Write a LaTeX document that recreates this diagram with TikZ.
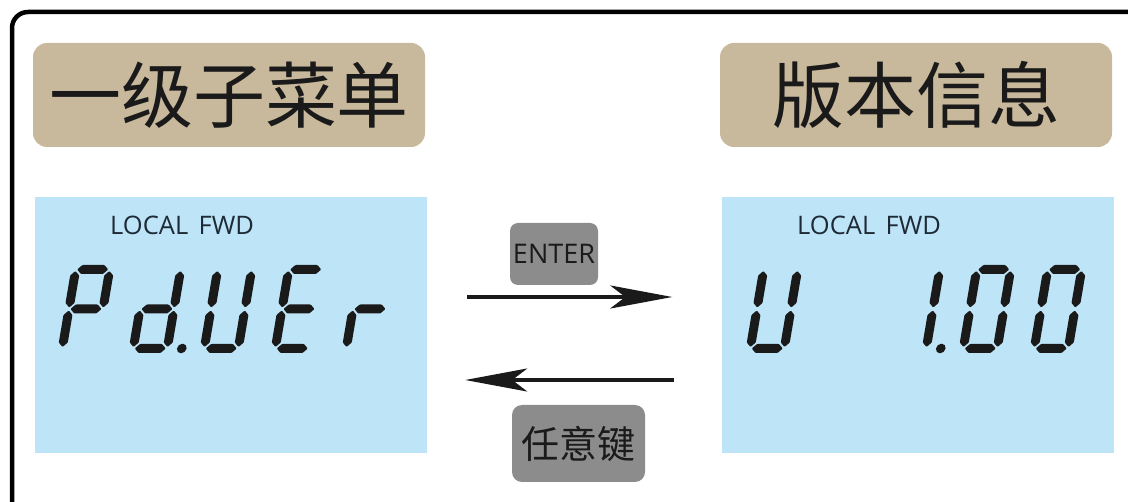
\documentclass[tikz,border=0pt]{standalone}
\usepackage{fontspec}
\setmainfont{Open Sans}
\newfontfamily\cjk{Noto Sans CJK SC}
\usetikzlibrary{arrows.meta}
\definecolor{titlebg}{HTML}{C9B99C}
\definecolor{lcdbg}{HTML}{BEE5F7}
\definecolor{keybg}{HTML}{8C8C8C}
\definecolor{ink}{HTML}{1A1A1A}
\definecolor{lcdink}{HTML}{1E2A36}
% seven-segment pieces (local coords: width 43, height 88, y up)
\newcommand\sgA{\fill[segfill] (6,83.5) -- (10.5,88) -- (32.5,88) -- (37,83.5) -- (32.5,79) -- (10.5,79) -- cycle;}
\newcommand\sgG{\fill[segfill] (6,44) -- (10.5,48.5) -- (32.5,48.5) -- (37,44) -- (32.5,39.5) -- (10.5,39.5) -- cycle;}
\newcommand\sgD{\fill[segfill] (6,4.5) -- (10.5,9) -- (32.5,9) -- (37,4.5) -- (32.5,0) -- (10.5,0) -- cycle;}
\newcommand\sgF{\fill[segfill] (4.5,45.5) -- (9,50) -- (9,77.5) -- (4.5,82) -- (0,77.5) -- (0,50) -- cycle;}
\newcommand\sgB{\fill[segfill] (38.5,45.5) -- (43,50) -- (43,77.5) -- (38.5,82) -- (34,77.5) -- (34,50) -- cycle;}
\newcommand\sgE{\fill[segfill] (4.5,6) -- (9,10.5) -- (9,38) -- (4.5,42.5) -- (0,38) -- (0,10.5) -- cycle;}
\newcommand\sgC{\fill[segfill] (38.5,6) -- (43,10.5) -- (43,38) -- (38.5,42.5) -- (34,38) -- (34,10.5) -- cycle;}
\newcommand\sgP{\fill[segfill] (53,4.5) circle (4.8);}
\newcommand\lcddigit[2]{\begin{scope}[shift={(#1,353)},x=1pt,y=1pt,xslant=0.17]#2\end{scope}}
\begin{document}
\begin{tikzpicture}[x=1pt,y=-1pt,
  segfill/.style={fill=ink, rounded corners=0.8pt},
  titlebox/.style={fill=titlebg, rounded corners=14pt, inner sep=0pt, text=ink,
    minimum width=392pt, minimum height=104pt, font=\cjk\fontsize{72}{80}\selectfont},
  lcdbox/.style={fill=lcdbg, inner sep=0pt, minimum width=392pt, minimum height=256pt},
  lcdtext/.style={inner sep=0pt, text=lcdink, font=\fontsize{25.5}{30}\selectfont},
  keybox/.style={fill=keybg, rounded corners=8pt, inner sep=0pt, text=ink},
  arr/.style={draw=ink, line width=3.5pt, -{Stealth[length=62pt,width=23pt,inset=15pt]}}]
\useasboundingbox (0,0) rectangle (1128,502);
\fill[white] (0,0) rectangle (1128,502);
\clip (0,0) rectangle (1128,502);
\draw[line width=4.5pt, rounded corners=16pt] (12,12) rectangle (1170,520);
% titles
\node[titlebox] (t1) at (229,95) {一级子菜单};
\node[titlebox] (t2) at (916,95) {版本信息};
% LCD panels
\node[lcdbox] (lcdL) at (231,325) {};
\node[lcdbox] (lcdR) at (917.5,325) {};
\node[lcdtext, anchor=base west] (locL) at (110,235) {LOCAL\hspace{0.15em} FWD};
\node[lcdtext, anchor=base west] (locR) at (797,235) {LOCAL\hspace{0.15em} FWD};
% left display: P d. U E r
\lcddigit{57}{\sgA\sgB\sgF\sgG\sgE}
\lcddigit{128}{\sgB\sgC\sgD\sgE\sgG\sgP}
\lcddigit{199}{\sgB\sgC\sgD\sgE\sgF}
\lcddigit{270}{\sgA\sgD\sgE\sgF\sgG}
\lcddigit{341}{\sgE\sgG}
% right display: U    1. 0 0
\lcddigit{745}{\sgB\sgC\sgD\sgE\sgF}
\lcddigit{887}{\sgB\sgC\sgP}
\lcddigit{958}{\sgA\sgB\sgC\sgD\sgE\sgF}
\lcddigit{1029}{\sgA\sgB\sgC\sgD\sgE\sgF}
% keys
\node[keybox, minimum width=88pt, minimum height=62pt, font=\fontsize{27}{30}\selectfont] (enter) at (554,254) {ENTER};
\node[keybox, rounded corners=10pt, minimum width=133pt, minimum height=77pt, font=\cjk\fontsize{38}{40}\selectfont] (anykey) at (578.5,443.5) {任意键};
% arrows
\draw[arr, shorten <=40pt, shorten >=49pt] ([yshift=28pt]lcdL.east) -- ([yshift=28pt]lcdR.west);
\draw[arr, shorten <=47pt, shorten >=38pt] ([yshift=-55pt]lcdR.west) -- ([yshift=-55pt]lcdL.east);
\end{tikzpicture}
\end{document}
